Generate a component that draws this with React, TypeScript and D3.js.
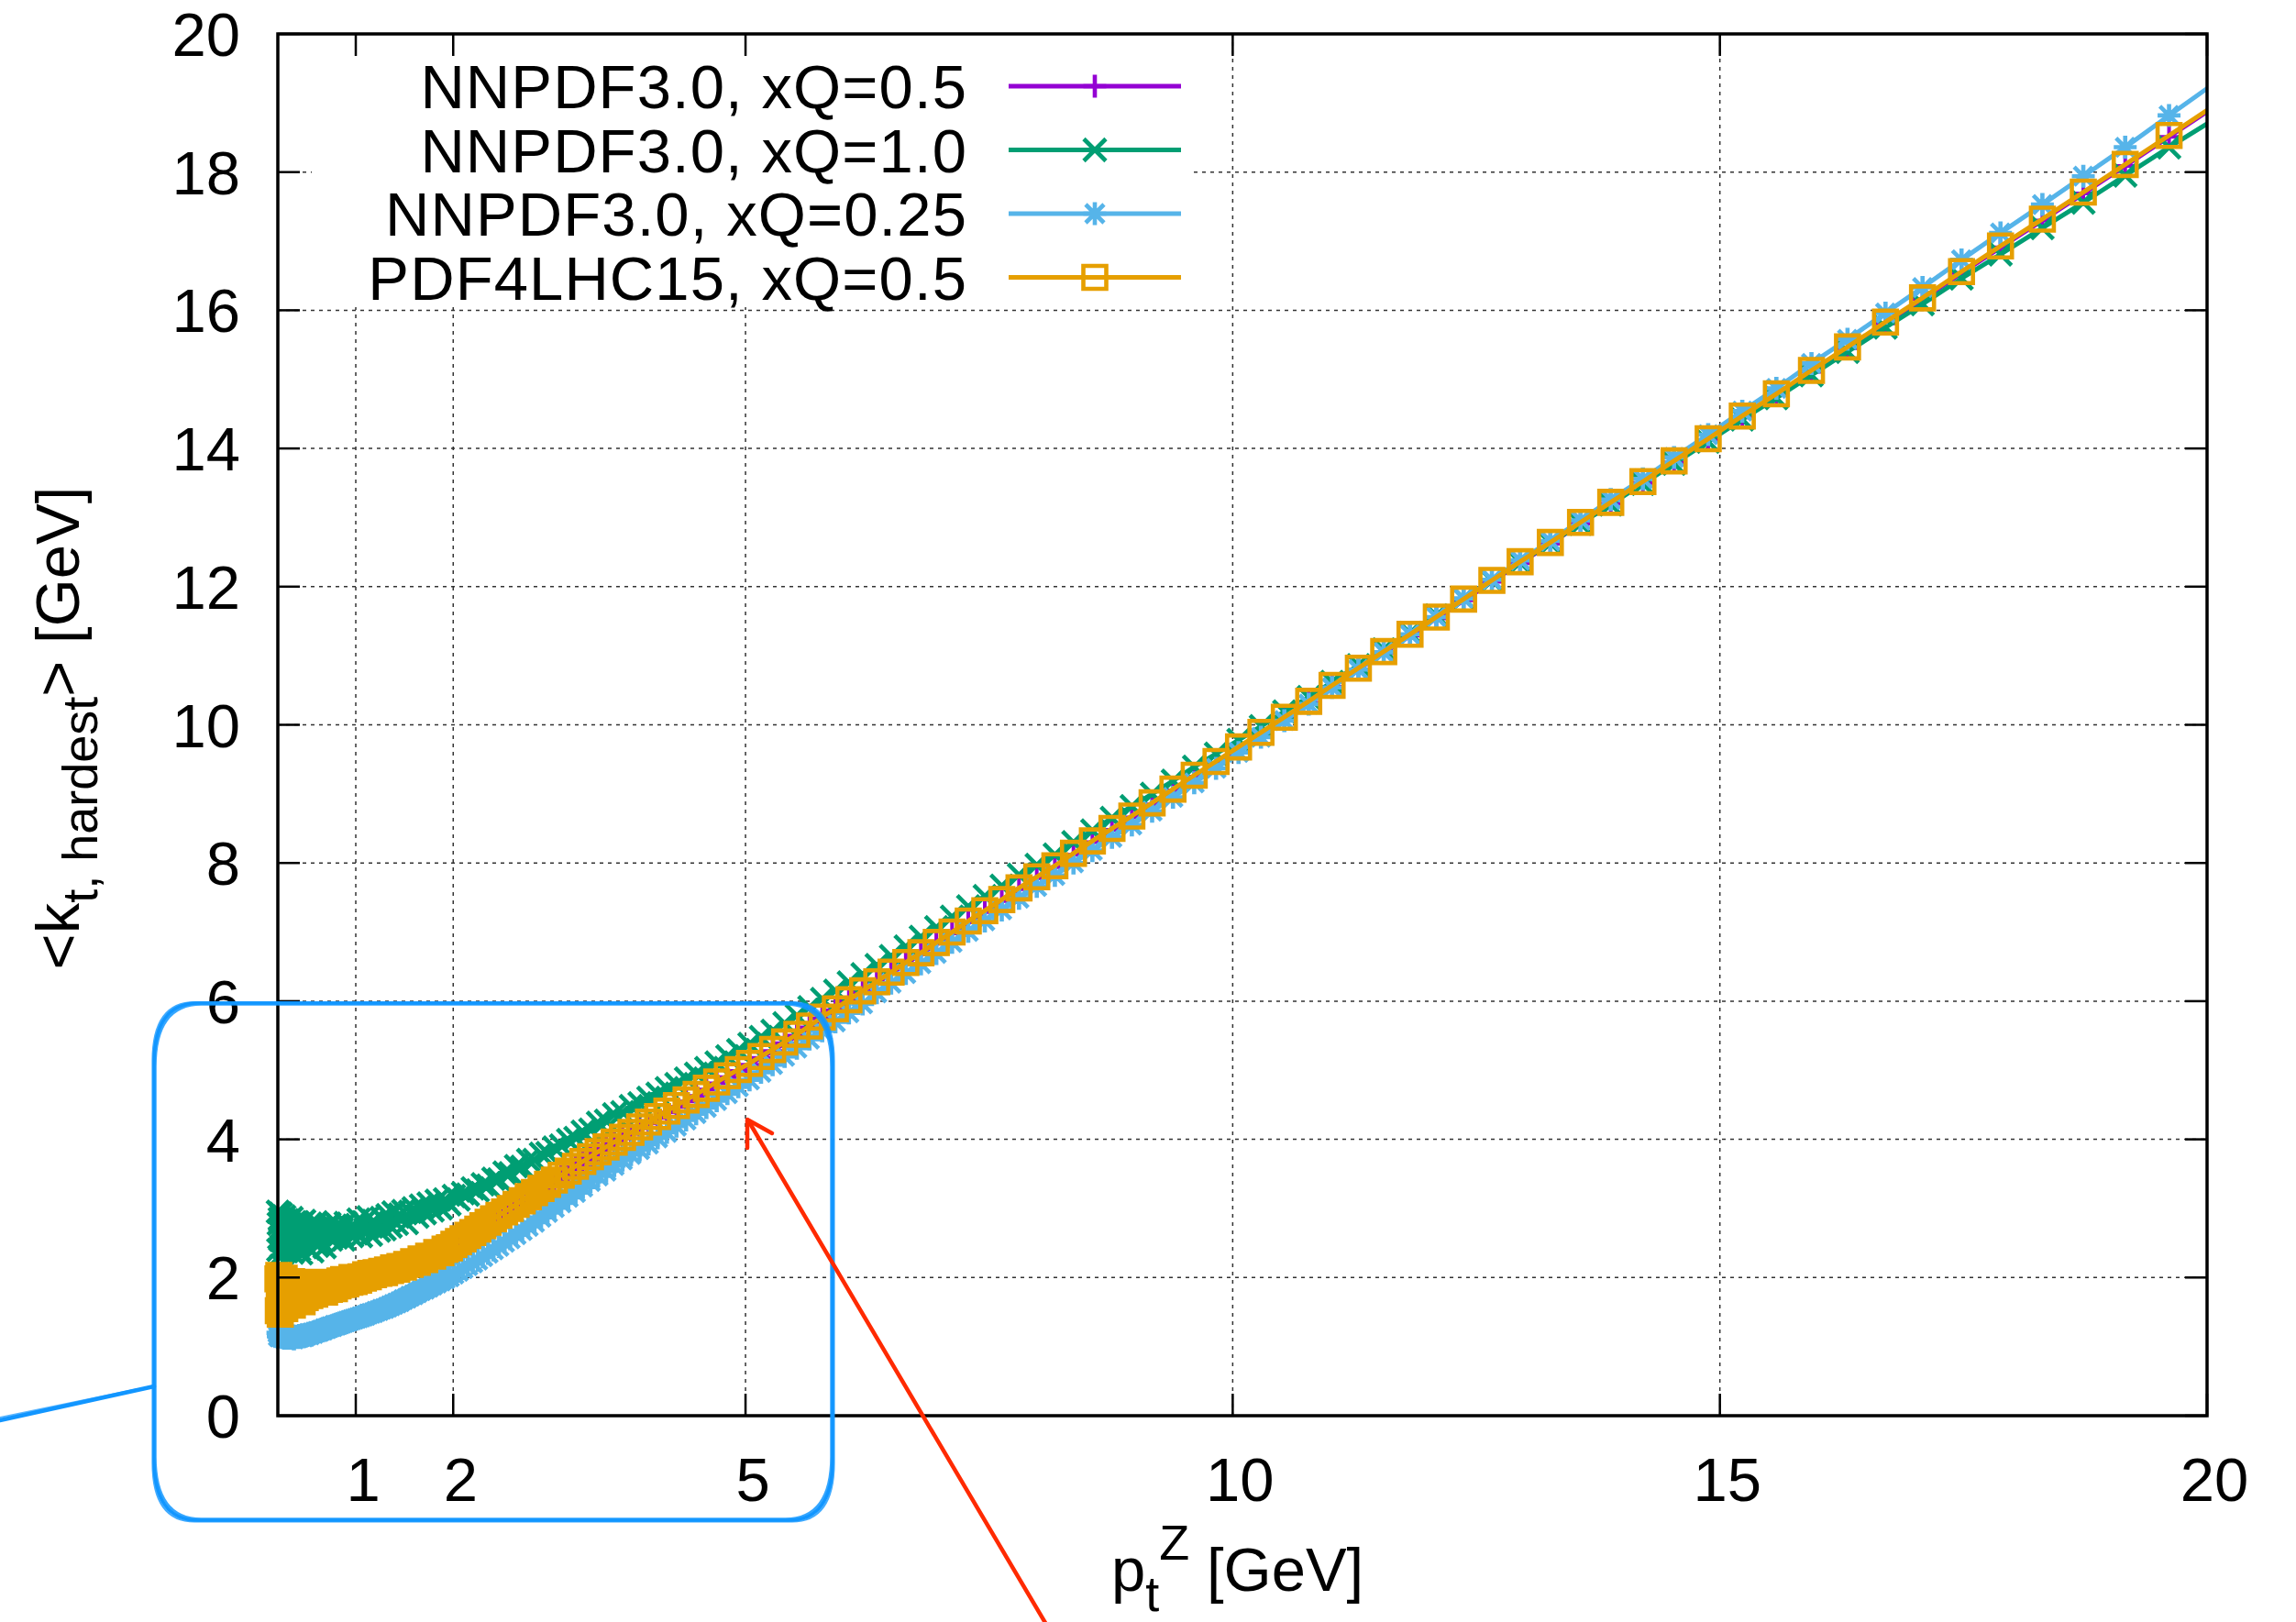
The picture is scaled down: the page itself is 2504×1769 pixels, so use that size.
import React, { useEffect } from 'react';
import * as d3 from 'd3';

// ---------- data ----------
const X_PT = [
  0.201, 0.205, 0.210, 0.215, 0.220, 0.225, 0.230, 0.236, 0.241, 0.247,
  0.253, 0.259, 0.265, 0.271, 0.277, 0.283, 0.290, 0.297, 0.304, 0.311,
  0.318, 0.326, 0.333, 0.341, 0.349, 0.357, 0.365, 0.374, 0.382, 0.391,
  0.400, 0.410, 0.419, 0.429, 0.439, 0.449, 0.460, 0.470, 0.481, 0.493,
  0.504, 0.516, 0.528, 0.540, 0.553, 0.566, 0.579, 0.592, 0.606, 0.620,
  0.635, 0.649, 0.665, 0.680, 0.696, 0.712, 0.729, 0.746, 0.763, 0.781,
  0.799, 0.818, 0.837, 0.856, 0.876, 0.897, 0.917, 0.939, 0.961, 0.983,
  1.006, 1.029, 1.053, 1.078, 1.102, 1.129, 1.155, 1.182, 1.209, 1.237,
  1.266, 1.295, 1.326, 1.357, 1.388, 1.421, 1.453, 1.488, 1.523, 1.558,
  1.594, 1.631, 1.670, 1.708, 1.748, 1.788, 1.831, 1.873, 1.916, 1.961,
  2.007, 2.054, 2.101, 2.150, 2.201, 2.252, 2.304, 2.358, 2.413, 2.469,
  2.527, 2.585, 2.645, 2.708, 2.770, 2.834, 2.901, 2.968, 3.038, 3.108,
  3.180, 3.255, 3.330, 3.408, 3.487, 3.569, 3.652, 3.737, 3.824, 3.913,
  4.004, 4.098, 4.193, 4.291, 4.390, 4.493, 4.598, 4.704, 4.814, 4.926,
  5.041, 5.159, 5.278, 5.401, 5.527, 5.656, 5.787, 5.922, 6.061, 6.202,
  6.347, 6.494, 6.645, 6.800, 6.958, 7.120, 7.286, 7.456, 7.630, 7.807,
  7.989, 8.175, 8.366, 8.560, 8.761, 8.965, 9.173, 9.387, 9.605, 9.829,
  10.06, 10.29, 10.53, 10.78, 11.02, 11.29, 11.55, 11.82, 12.09, 12.37,
  12.66, 12.95, 13.26, 13.57, 13.88, 14.21, 14.53, 14.88, 15.23, 15.58,
  15.94, 16.31, 16.70, 17.08, 17.48, 17.88, 18.31, 18.73, 19.16, 19.61,
  20.07,
];

const Y_NNPDF30_XQ05 = [
  1.70, 1.85, 1.62, 1.94, 1.58, 1.80, 1.72, 1.90, 1.66, 1.77,
  1.74, 1.83, 1.66, 1.79, 1.88, 1.69, 1.75, 1.84, 1.71, 1.78,
  1.81, 1.70, 1.86, 1.73, 1.77, 1.84, 1.69, 1.76, 1.82, 1.74,
  1.76, 1.83, 1.71, 1.80, 1.86, 1.74, 1.78, 1.82, 1.75, 1.80,
  1.83, 1.76, 1.84, 1.79, 1.86, 1.78, 1.83, 1.81, 1.85, 1.80,
  1.86, 1.83, 1.87, 1.85, 1.84, 1.88, 1.86, 1.87, 1.89, 1.88,
  1.90, 1.91, 1.90, 1.93, 1.92, 1.94, 1.93, 1.95, 1.95, 1.96,
  1.97, 1.98, 1.99, 2.00, 2.01, 2.02, 2.03, 2.04, 2.05, 2.06,
  2.07, 2.09, 2.10, 2.11, 2.13, 2.14, 2.15, 2.17, 2.18, 2.20,
  2.21, 2.23, 2.25, 2.27, 2.29, 2.31, 2.34, 2.36, 2.39, 2.42,
  2.46, 2.50, 2.54, 2.59, 2.63, 2.68, 2.73, 2.78, 2.83, 2.88,
  2.93, 2.98, 3.04, 3.09, 3.15, 3.21, 3.27, 3.33, 3.39, 3.46,
  3.52, 3.59, 3.66, 3.73, 3.80, 3.87, 3.94, 4.01, 4.08, 4.16,
  4.23, 4.31, 4.39, 4.47, 4.55, 4.63, 4.72, 4.81, 4.90, 4.99,
  5.08, 5.18, 5.28, 5.39, 5.50, 5.62, 5.75, 5.87, 6.00, 6.13,
  6.26, 6.40, 6.54, 6.68, 6.83, 6.98, 7.14, 7.29, 7.45, 7.62,
  7.78, 7.94, 8.12, 8.30, 8.48, 8.66, 8.85, 9.05, 9.25, 9.45,
  9.66, 9.87, 10.09, 10.32, 10.55, 10.80, 11.04, 11.29, 11.54, 11.80,
  12.07, 12.34, 12.62, 12.91, 13.20, 13.50, 13.80, 14.12, 14.45, 14.77,
  15.11, 15.45, 15.81, 16.16, 16.54, 16.91, 17.30, 17.69, 18.09, 18.51,
  18.94,
];

const Y_NNPDF30_XQ10 = [
  2.95, 2.40, 2.78, 2.30, 2.85, 2.55, 2.92, 2.45, 2.70, 2.35,
  2.80, 2.52, 2.88, 2.42, 2.66, 2.74, 2.38, 2.83, 2.58, 2.70,
  2.47, 2.76, 2.55, 2.86, 2.36, 2.68, 2.62, 2.80, 2.45, 2.72,
  2.52, 2.79, 2.40, 2.66, 2.35, 2.73, 2.60, 2.82, 2.48, 2.64,
  2.70, 2.42, 2.77, 2.55, 2.38, 2.68, 2.61, 2.80, 2.46, 2.66,
  2.74, 2.52, 2.69, 2.44, 2.71, 2.60, 2.78, 2.55, 2.66, 2.72,
  2.58, 2.76, 2.63, 2.70, 2.55, 2.79, 2.66, 2.72, 2.60, 2.75,
  2.64, 2.84, 2.60, 2.80, 2.70, 2.87, 2.62, 2.82, 2.76, 2.68,
  2.86, 2.70, 2.90, 2.74, 2.94, 2.78, 2.91, 2.96, 2.79, 2.95,
  3.00, 2.88, 3.04, 2.93, 3.07, 2.97, 3.11, 3.00, 3.13, 3.06,
  3.18, 3.13, 3.22, 3.20, 3.29, 3.26, 3.35, 3.33, 3.43, 3.42,
  3.52, 3.51, 3.61, 3.60, 3.70, 3.70, 3.79, 3.80, 3.88, 3.91,
  3.99, 4.02, 4.11, 4.14, 4.24, 4.27, 4.36, 4.39, 4.48, 4.52,
  4.60, 4.66, 4.74, 4.80, 4.88, 4.95, 5.03, 5.11, 5.20, 5.29,
  5.38, 5.48, 5.57, 5.68, 5.79, 5.91, 6.03, 6.15, 6.27, 6.39,
  6.52, 6.65, 6.79, 6.93, 7.07, 7.22, 7.37, 7.52, 7.67, 7.83,
  7.97, 8.12, 8.30, 8.47, 8.65, 8.82, 9.00, 9.19, 9.39, 9.58,
  9.78, 9.98, 10.19, 10.40, 10.62, 10.86, 11.09, 11.33, 11.58, 11.83,
  12.09, 12.35, 12.63, 12.91, 13.19, 13.49, 13.78, 14.10, 14.42, 14.73,
  15.06, 15.40, 15.75, 16.09, 16.46, 16.81, 17.19, 17.56, 17.95, 18.36,
  18.76,
];

const Y_NNPDF30_XQ025 = [
  1.20, 1.15, 1.19, 1.14, 1.18, 1.21, 1.15, 1.17, 1.13, 1.18,
  1.14, 1.17, 1.12, 1.16, 1.15, 1.13, 1.17, 1.14, 1.12, 1.16,
  1.13, 1.15, 1.12, 1.16, 1.13, 1.14, 1.11, 1.15, 1.13, 1.14,
  1.15, 1.13, 1.16, 1.14, 1.15, 1.17, 1.14, 1.16, 1.15, 1.17,
  1.17, 1.19, 1.17, 1.19, 1.20, 1.19, 1.21, 1.21, 1.22, 1.22,
  1.23, 1.24, 1.24, 1.26, 1.26, 1.27, 1.28, 1.29, 1.29, 1.31,
  1.31, 1.32, 1.33, 1.34, 1.35, 1.36, 1.37, 1.38, 1.39, 1.40,
  1.41, 1.42, 1.43, 1.44, 1.45, 1.47, 1.48, 1.49, 1.51, 1.52,
  1.54, 1.55, 1.57, 1.59, 1.61, 1.63, 1.65, 1.68, 1.70, 1.73,
  1.75, 1.78, 1.81, 1.83, 1.86, 1.89, 1.92, 1.95, 1.98, 2.01,
  2.05, 2.09, 2.13, 2.17, 2.21, 2.25, 2.30, 2.35, 2.40, 2.45,
  2.51, 2.56, 2.62, 2.68, 2.74, 2.80, 2.87, 2.94, 3.01, 3.08,
  3.16, 3.23, 3.31, 3.39, 3.47, 3.54, 3.62, 3.70, 3.78, 3.85,
  3.93, 4.02, 4.10, 4.19, 4.28, 4.37, 4.46, 4.56, 4.66, 4.76,
  4.86, 4.97, 5.08, 5.20, 5.32, 5.45, 5.57, 5.70, 5.83, 5.96,
  6.12, 6.26, 6.40, 6.54, 6.69, 6.85, 7.01, 7.16, 7.32, 7.49,
  7.66, 7.82, 8.00, 8.18, 8.37, 8.55, 8.75, 8.95, 9.16, 9.37,
  9.60, 9.82, 10.06, 10.30, 10.54, 10.80, 11.05, 11.31, 11.56, 11.83,
  12.10, 12.38, 12.66, 12.96, 13.26, 13.56, 13.87, 14.20, 14.54, 14.87,
  15.23, 15.58, 15.96, 16.33, 16.73, 17.12, 17.53, 17.94, 18.36, 18.82,
  19.28,
];

const Y_PDF4LHC15_XQ05 = [
  1.98, 1.52, 2.03, 1.60, 1.90, 1.47, 1.83, 1.68, 1.95, 1.58,
  1.88, 1.64, 1.99, 1.55, 1.80, 1.70, 1.92, 1.62, 1.78, 1.86,
  1.66, 1.84, 1.72, 1.94, 1.60, 1.81, 1.75, 1.89, 1.67, 1.79,
  1.85, 1.68, 1.93, 1.74, 1.80, 1.65, 1.90, 1.76, 1.71, 1.86,
  1.77, 1.90, 1.74, 1.85, 1.80, 1.93, 1.76, 1.84, 1.79, 1.88,
  1.82, 1.90, 1.85, 1.79, 1.93, 1.86, 1.83, 1.91, 1.87, 1.84,
  1.93, 1.88, 1.95, 1.90, 1.97, 1.91, 1.96, 1.93, 2.00, 1.94,
  1.98, 1.96, 2.01, 1.99, 2.04, 2.01, 2.06, 2.04, 2.07, 2.06,
  2.09, 2.07, 2.11, 2.10, 2.14, 2.12, 2.16, 2.15, 2.19, 2.19,
  2.23, 2.22, 2.27, 2.26, 2.31, 2.31, 2.36, 2.36, 2.41, 2.43,
  2.48, 2.52, 2.56, 2.61, 2.65, 2.70, 2.75, 2.80, 2.85, 2.90,
  2.95, 3.00, 3.06, 3.11, 3.17, 3.23, 3.29, 3.35, 3.41, 3.48,
  3.54, 3.61, 3.68, 3.75, 3.82, 3.89, 3.96, 4.03, 4.10, 4.18,
  4.25, 4.33, 4.41, 4.49, 4.57, 4.65, 4.74, 4.83, 4.92, 5.01,
  5.10, 5.20, 5.30, 5.41, 5.52, 5.64, 5.77, 5.89, 6.02, 6.15,
  6.28, 6.42, 6.56, 6.70, 6.85, 7.00, 7.16, 7.31, 7.47, 7.64,
  7.80, 7.96, 8.14, 8.32, 8.50, 8.68, 8.87, 9.07, 9.27, 9.47,
  9.68, 9.89, 10.11, 10.34, 10.57, 10.82, 11.06, 11.31, 11.56, 11.82,
  12.09, 12.36, 12.64, 12.93, 13.22, 13.52, 13.82, 14.14, 14.47, 14.79,
  15.13, 15.47, 15.83, 16.18, 16.56, 16.93, 17.32, 17.71, 18.11, 18.53,
  18.96,
];

const SERIES_LABELS = [
  'NNPDF3.0, xQ=0.5',
  'NNPDF3.0, xQ=1.0',
  'NNPDF3.0, xQ=0.25',
  'PDF4LHC15, xQ=0.5',
];
const SERIES_COLORS = ['#9400d3', '#009e73', '#56b4e9', '#e69f00'];
const SERIES_MARKERS = ['plus', 'cross', 'star', 'square'];
const SERIES_VALUES = [Y_NNPDF30_XQ05, Y_NNPDF30_XQ10, Y_NNPDF30_XQ025, Y_PDF4LHC15_XQ05];

const X_TICKS = [1, 2, 5, 10, 15, 20];
const X_GRID = [1, 2, 5, 10, 15];
const Y_TICKS = [0, 2, 4, 6, 8, 10, 12, 14, 16, 18, 20];
const X_DOMAIN = [0.2, 20];
const Y_DOMAIN = [0, 20];

// ---------- layout ----------
const W = 2504;
const H = 1769;
const PL = 303, PR = 2407, PT = 37, PB = 1544;
const FONT = '"Liberation Sans", Arial, Helvetica, sans-serif';
const FS = 67;

function markerPath(type: string, cx: number, cy: number): string {
  const s = 12.5;
  const c = 12;
  const k = 10;
  switch (type) {
    case 'plus':
      return `M${cx - s},${cy}H${cx + s}M${cx},${cy - s}V${cy + s}`;
    case 'cross':
      return `M${cx - c},${cy - c}L${cx + c},${cy + c}M${cx - c},${cy + c}L${cx + c},${cy - c}`;
    case 'star':
      return `M${cx - s},${cy}H${cx + s}M${cx},${cy - s}V${cy + s}M${cx - k},${cy - k}L${cx + k},${cy + k}M${cx - k},${cy + k}L${cx + k},${cy - k}`;
    default:
      return `M${cx - s},${cy - s}H${cx + s}V${cy + s}H${cx - s}Z`;
  }
}

function roundRect(l: number, t: number, r: number, b: number, rx: number, ry: number): string {
  return `M${l + rx},${t} H${r - rx} Q${r},${t} ${r},${t + ry} V${b - ry} Q${r},${b} ${r - rx},${b} H${l + rx} Q${l},${b} ${l},${b - ry} V${t + ry} Q${l},${t} ${l + rx},${t} Z`;
}

export default function App() {
  useEffect(() => {
    document.body.style.margin = '0';
    document.body.style.overflow = 'hidden';
  }, []);

  const x = d3.scaleLinear().domain(X_DOMAIN).range([PL, PR]);
  const y = d3.scaleLinear().domain(Y_DOMAIN).range([PB, PT]);

  const line = d3
    .line<[number, number]>()
    .x((d) => x(d[0]))
    .y((d) => y(d[1]));

  const legendRows = [94, 163.5, 233, 302.5];

  return (
    <svg width={W} height={H} viewBox={`0 0 ${W} ${H}`} style={{ display: 'block', background: '#fff' }} fontFamily={FONT}>
      <defs>
        <clipPath id="plotclip">
          <rect x={PL} y={PT} width={PR - PL} height={PB - PT} />
        </clipPath>
      </defs>
      <rect x={0} y={0} width={W} height={H} fill="#fff" />

      {/* grid */}
      <g stroke="#333" strokeWidth={1.5} strokeDasharray="4 5">
        {X_GRID.map((t) => (
          <line key={'gx' + t} x1={x(t)} x2={x(t)} y1={PB} y2={PT} />
        ))}
        {Y_TICKS.filter((t) => t > 0 && t < 20).map((t) => (
          <line key={'gy' + t} x1={PL} x2={PR} y1={y(t)} y2={y(t)} />
        ))}
      </g>

      {/* series */}
      {SERIES_VALUES.map((vals, si) => {
        const pts: [number, number][] = X_PT.map((xv, i) => [xv, vals[i]]);
        const inRange = pts.filter((p) => p[0] >= X_DOMAIN[0] && p[0] <= X_DOMAIN[1]);
        const mk = inRange.map((p) => markerPath(SERIES_MARKERS[si], x(p[0]), y(p[1]))).join('');
        return (
          <g key={'s' + si}>
            <path d={line(pts) || ''} fill="none" stroke={SERIES_COLORS[si]} strokeWidth={5} clipPath="url(#plotclip)" strokeLinejoin="round" />
            <path d={mk} fill="none" stroke={SERIES_COLORS[si]} strokeWidth={SERIES_MARKERS[si] === 'plus' ? 4 : 4.6} />
          </g>
        );
      })}

      {/* legend (opaque box) */}
      <rect x={340} y={52} width={958} height={283} fill="#fff" />
      {SERIES_LABELS.map((lab, i) => (
        <g key={'lg' + i}>
          <text x={1055} y={legendRows[i] + 24} textAnchor="end" fontSize={FS} letterSpacing={1.1} fill="#000">
            {lab}
          </text>
          <line x1={1100} x2={1288} y1={legendRows[i]} y2={legendRows[i]} stroke={SERIES_COLORS[i]} strokeWidth={5} />
          <path d={markerPath(SERIES_MARKERS[i], 1194, legendRows[i])} fill="none" stroke={SERIES_COLORS[i]} strokeWidth={4.6} />
        </g>
      ))}

      {/* border and ticks */}
      <g stroke="#000" strokeWidth={2.5}>
        {X_TICKS.map((t) => (
          <g key={'tx' + t}>
            <line x1={x(t)} x2={x(t)} y1={PB} y2={PB - 24} />
            <line x1={x(t)} x2={x(t)} y1={PT} y2={PT + 24} />
          </g>
        ))}
        {Y_TICKS.map((t) => (
          <g key={'ty' + t}>
            <line x1={PL} x2={PL + 24} y1={y(t)} y2={y(t)} />
            <line x1={PR} x2={PR - 24} y1={y(t)} y2={y(t)} />
          </g>
        ))}
      </g>
      <rect x={PL} y={PT} width={PR - PL} height={PB - PT} fill="none" stroke="#000" strokeWidth={3.5} />

      {/* tick labels */}
      <g fontSize={FS} fill="#000">
        {Y_TICKS.map((t) => (
          <text key={'ly' + t} x={262} y={y(t) + 24} textAnchor="end">
            {t}
          </text>
        ))}
        {X_TICKS.map((t) => (
          <text key={'lx' + t} x={x(t) + 8} y={1637} textAnchor="middle">
            {t}
          </text>
        ))}
      </g>

      {/* axis titles */}
      <text x={1212} y={1735} fontSize={FS} fill="#000">
        p
        <tspan fontSize={54} dy={22}>t</tspan>
        <tspan fontSize={54} dy={-56}>Z</tspan>
        <tspan fontSize={FS} dy={34}>{' [GeV]'}</tspan>
      </text>
      <text transform="translate(86,794) rotate(-90)" textAnchor="middle" fontSize={FS} fill="#000">
        {'<k'}
        <tspan fontSize={54} dy={20}>t, hardest</tspan>
        <tspan fontSize={FS} dy={-20}>{'> [GeV]'}</tspan>
      </text>

      {/* hand-drawn annotation: blue rounded box + tail */}
      <g fill="none" stroke="#1296ff" strokeLinecap="round" strokeLinejoin="round">
        <path d={roundRect(168, 1094, 908, 1658, 48, 66)} strokeWidth={3.5} />
        <path d={roundRect(169.5, 1095.5, 906.5, 1656.5, 50, 68)} strokeWidth={2.5} opacity={0.85} />
        <path d={roundRect(166.5, 1093, 909.5, 1659.5, 46, 64)} strokeWidth={2.2} opacity={0.8} />
        <path d="M0,1549 L168,1512" strokeWidth={4.5} />
        <path d="M0,1546 L150,1515" strokeWidth={2} opacity={0.7} />
      </g>

      {/* red arrow */}
      <g fill="none" stroke="#ff2a00" strokeWidth={4.5} strokeLinecap="round" strokeLinejoin="round">
        <path d="M816,1222 L1146,1780" />
        <path d="M815,1252 L815,1221 L842,1236" />
      </g>
    </svg>
  );
}
